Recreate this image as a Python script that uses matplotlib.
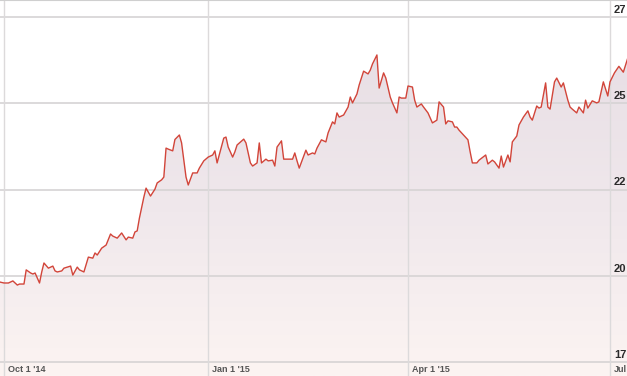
import numpy as np
import matplotlib
matplotlib.use("Agg")
import matplotlib.pyplot as plt
import matplotlib.dates as mdates
from matplotlib.colors import LinearSegmentedColormap
import datetime as dt

# ---- data (day offsets from 2014-10-01, closing values) ----
start_date = "2014-10-01"
day_offsets = [-2, 0, 2, 4, 6, 7, 9, 10, 12, 13, 14, 16, 17, 18, 20, 22, 23, 24, 26, 27,
               30, 31, 33, 34, 36, 38, 40, 41, 42, 44, 46, 48, 49, 51, 53, 55, 56, 58, 59, 60,
               61, 63, 64, 66, 68, 69, 71, 72, 73, 74, 76, 77, 79, 80, 82, 83, 85, 87, 88, 90,
               92, 94, 95, 96, 99, 100, 101, 103, 104, 105, 108, 109, 111, 112, 114, 115, 116, 118, 119, 121,
               122, 123, 125, 126, 128, 130, 131, 132, 133, 136, 137, 139, 140, 141, 143, 145, 146, 148, 149, 150,
               151, 153, 155, 156, 157, 159, 160, 162, 164, 165, 166, 168, 169, 171, 172, 174, 175, 177, 178, 179,
               181, 182, 184, 185, 186, 188, 189, 191, 193, 195, 196, 198, 199, 200, 202, 203, 204, 205, 207, 209,
               210, 211, 213, 214, 217, 218, 220, 221, 223, 224, 225, 227, 228, 229, 231, 232, 234, 236, 237, 238,
               240, 241, 242, 244, 245, 246, 248, 249, 251, 252, 254, 255, 256, 258, 259, 261, 262, 263, 265, 267,
               268, 270, 272, 273, 275, 277, 279, 281]
prices = [19.82, 19.79, 19.79, 19.85, 19.73, 19.76, 19.76, 20.17, 20.08, 20.05, 20.08, 19.79, 20.11, 20.37, 20.22, 20.28, 20.14, 20.11, 20.14, 20.22,
          20.28, 20.02, 20.25, 20.17, 20.11, 20.54, 20.51, 20.66, 20.60, 20.80, 20.89, 21.21, 21.15, 21.09, 21.24, 21.04, 21.12, 21.09, 21.27, 21.30,
          21.67, 22.28, 22.54, 22.31, 22.51, 22.69, 22.78, 22.86, 23.70, 23.67, 23.62, 23.95, 24.08, 23.85, 22.86, 22.63, 22.98, 22.98, 23.12, 23.33,
          23.44, 23.50, 23.62, 23.27, 23.99, 24.02, 23.73, 23.44, 23.59, 23.79, 23.96, 23.85, 23.27, 23.18, 23.27, 23.85, 23.27, 23.38, 23.33, 23.35,
          23.18, 23.73, 23.91, 23.38, 23.38, 23.38, 23.56, 23.33, 23.12, 23.64, 23.50, 23.56, 23.53, 23.70, 23.94, 23.88, 24.14, 24.46, 24.40, 24.72,
          24.60, 24.66, 24.89, 25.18, 25.01, 25.27, 25.53, 25.93, 25.85, 25.96, 26.14, 26.40, 25.44, 25.88, 25.73, 25.18, 25.01, 24.72, 25.18, 25.15,
          25.15, 25.50, 25.47, 25.09, 24.89, 24.98, 24.89, 24.72, 24.43, 24.51, 25.04, 24.89, 24.40, 24.49, 24.46, 24.31, 24.31, 24.22, 24.08, 23.94,
          23.59, 23.27, 23.27, 23.35, 23.50, 23.24, 23.35, 23.30, 23.12, 23.47, 23.15, 23.50, 23.30, 23.88, 24.05, 24.37, 24.60, 24.78, 24.60, 24.51,
          24.92, 24.86, 24.89, 25.59, 24.89, 24.83, 25.62, 25.73, 25.47, 25.59, 25.09, 24.89, 24.83, 24.72, 24.89, 24.72, 25.09, 24.86, 25.07, 25.01,
          25.04, 25.62, 25.21, 25.62, 25.88, 26.07, 25.90, 26.31]
y_ticks = [27.5, 25.0, 22.5, 20.0, 17.5]
y_tick_labels = ["27", "25", "22", "20", "17"]
x_tick_dates = ["2014-10-01", "2015-01-01", "2015-04-01", "2015-07-01"]
x_tick_labels = ["Oct 1 '14", "Jan 1 '15", "Apr 1 '15", "Jul"]

base = dt.datetime.strptime(start_date, "%Y-%m-%d")
dates = [base + dt.timedelta(days=d) for d in day_offsets]
xn = mdates.date2num(dates)
yv = np.array(prices)

# ---- figure ----
W, H = 627, 376
fig = plt.figure(figsize=(W / 100, H / 100), dpi=100)
ax = fig.add_axes([0, 0, 1, 1])
ax.set_axis_off()

base_num = mdates.date2num(base)
px_per_day = 2.2198
x0_px = 4.0
xlim = (base_num + (0 - x0_px) / px_per_day, base_num + (W - x0_px) / px_per_day)
def v_at(ypx):
    return 27.5 - (ypx - 17) * 2.5 / 86.25
ylim = (v_at(H), v_at(0))
ax.set_xlim(*xlim)
ax.set_ylim(*ylim)

# light pink band below the bottom gridline
ax.axhspan(ylim[0], 17.5, color="#fcf5f3", zorder=0)

# gradient fill under line
poly = ax.fill_between(xn, yv, ylim[0], color="none", zorder=1)
cmap = LinearSegmentedColormap.from_list("g", ["#fcf4f2", "#f0e8ec", "#e8dfe5"])
grad = np.linspace(0, 1, 256).reshape(-1, 1)
im = ax.imshow(grad, extent=[xlim[0], xlim[1], ylim[0], 26.6], origin="lower",
               aspect="auto", cmap=cmap, zorder=1)
path = poly.get_paths()[0]
im.set_clip_path(path, transform=ax.transData)

# gridlines
for yt in y_ticks:
    ax.axhline(yt, color="#d6d3d4", lw=1.2, zorder=2)
for d in x_tick_dates:
    ax.axvline(mdates.date2num(dt.datetime.strptime(d, "%Y-%m-%d")), color="#dcdadb", lw=1.0, zorder=2)

# top border
ax.axhline(ylim[1] - 0.01, color="#cfcfcf", lw=1.5, zorder=2)

# line
ax.plot(xn, yv, color="#d2453a", lw=1.0, zorder=3, solid_joinstyle="round")

# y labels (right side)
for yt, lab in zip(y_ticks, y_tick_labels):
    ax.text(xlim[0] + 614 / px_per_day, yt + 0.06, lab, fontsize=8, fontweight="bold",
            color="#2a2a2a", ha="left", va="bottom", family="Liberation Sans", zorder=4)

# x labels
for d, lab in zip(x_tick_dates, x_tick_labels):
    xd = mdates.date2num(dt.datetime.strptime(d, "%Y-%m-%d"))
    ax.text(xd + 1.6, v_at(369.5), lab, fontsize=6.5, fontweight="bold", color="#555555",
            ha="left", va="center", family="Liberation Sans", zorder=4)

fig.savefig("out.png", dpi=100)
